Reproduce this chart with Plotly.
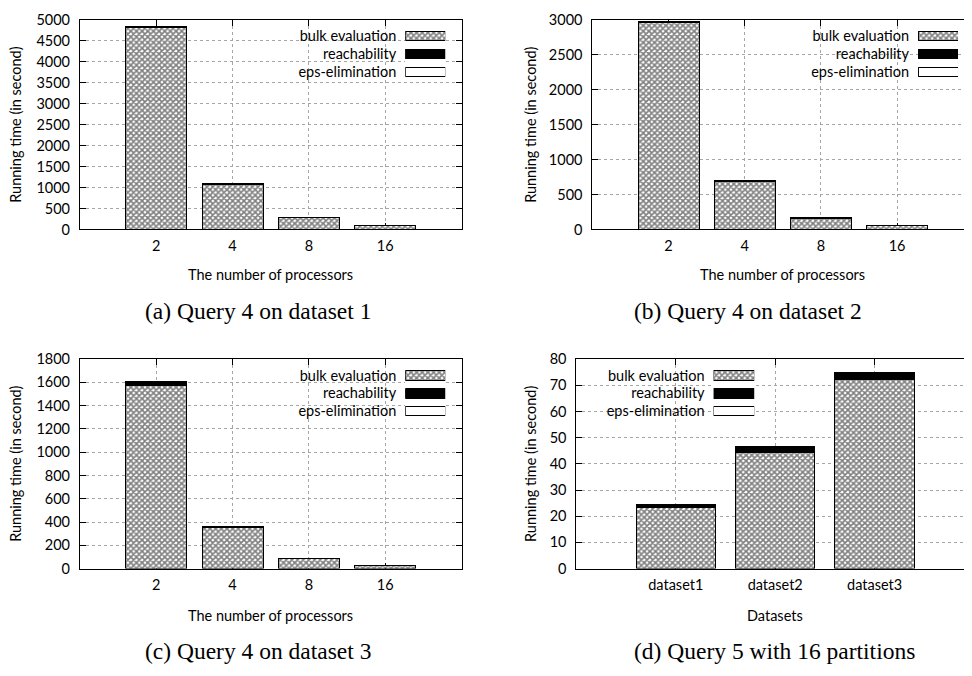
import plotly.graph_objects as go

# page has an 8px body margin, so the figure is 964x668 placed at (8, 8)
OFF = 8
W, H = 964, 668

# ---------------- data ----------------
procs = ["2", "4", "8", "16"]
datasets = ["dataset1", "dataset2", "dataset3"]
series_names = ["bulk evaluation", "reachability", "eps-elimination"]

bulk_a = [4820, 1080, 275, 85]
reach_a = [25, 25, 8, 5]
eps_a = [3, 2, 1, 1]

bulk_b = [2960, 690, 160, 53]
reach_b = [18, 16, 3, 2]
eps_b = [2, 2, 1, 0.5]

bulk_c = [1575, 352, 86, 26]
reach_c = [33, 7, 3, 1.5]
eps_c = [2, 1, 0.5, 0.3]

bulk_d = [23.2, 44.3, 72.2]
reach_d = [1.2, 2.4, 2.8]
eps_d = [0.05, 0.05, 0.05]

captions = ["(a) Query 4 on dataset 1", "(b) Query 4 on dataset 2",
            "(c) Query 4 on dataset 3", "(d) Query 5 with 16 partitions"]
xtitles = ["The number of processors", "The number of processors",
           "The number of processors", "Datasets"]
ytitle = "Running time (in second)"

# ---------------- styling ----------------
FONT = "Lato"
FS = 14.5
SERIF = "Liberation Serif"
CAP_FS = 23.5


def px(s):
    return (s - OFF) / W


def py(s):
    return 1 - (s - OFF) / H


panels = [
    dict(cats=procs, vals=[bulk_a, reach_a, eps_a], xdom=(80, 462), ydom=(11, 226),
         xr=[-1, 4], yr=[0, 5000], dt=500,
         leg_x=(405.7, 445.7), leg_y=(18.3, 73.5), box=(277, 12, 461, 72),
         ytx=16, xtx=271, xty=272, capx=258.5, capy=310),
    dict(cats=procs, vals=[bulk_b, reach_b, eps_b], xdom=(593, 972), ydom=(11, 226),
         xr=[-1, 3.97], yr=[0, 3000], dt=500,
         leg_x=(919, 959), leg_y=(18.3, 73.5), box=(790, 12, 966, 72),
         ytx=531.7, xtx=783, xty=272, capx=749, capy=310),
    dict(cats=procs, vals=[bulk_c, reach_c, eps_c], xdom=(80, 462), ydom=(359, 574),
         xr=[-1, 4], yr=[0, 1800], dt=200,
         leg_x=(405.7, 445.7), leg_y=(366.9, 421.4), box=(277, 360, 461, 421),
         ytx=16, xtx=271, xty=622, capx=258.5, capy=659),
    dict(cats=datasets, vals=[bulk_d, reach_d, eps_d], xdom=(577, 972), ydom=(359, 574),
         xr=[-1, 2.97], yr=[0, 80], dt=10,
         leg_x=(714.3, 755), leg_y=(366.9, 421.4), box=(578, 366, 761.5, 421),
         ytx=531.7, xtx=776, xty=622, capx=775, capy=659),
]

styles = [
    dict(color="white", line=dict(color="black", width=1),
         pattern=dict(shape="x", fgcolor="black", bgcolor="white", size=4, solidity=0.65)),
    dict(color="black", line=dict(color="black", width=1)),
    dict(color="white", line=dict(color="black", width=1)),
]

fig = go.Figure()
tickfont = dict(family=FONT, size=FS, color="black")
annotations = []
shapes = []
GRID = "#a6a6a6"

for i, p in enumerate(panels):
    k = i + 1
    ks = "" if k == 1 else str(k)
    xa, ya = f"x{ks}", f"y{ks}"
    for name, vals, st in zip(series_names, p["vals"], styles):
        fig.add_trace(go.Bar(x=p["cats"], y=vals, name=name, marker=st, width=0.8,
                             xaxis=xa, yaxis=ya, showlegend=False, hoverinfo="skip"))
    fig.update_layout(**{
        f"xaxis{ks}": dict(domain=[px(p["xdom"][0]), min(1, px(p["xdom"][1]))], anchor=ya,
                           type="category", range=p["xr"], showline=True, linecolor="black",
                           linewidth=1, mirror="ticks", ticks="inside", ticklen=6,
                           tickcolor="black", showgrid=True, gridcolor=GRID,
                           griddash="dot", gridwidth=1, tickfont=tickfont, zeroline=False,
                           layer="below traces", fixedrange=True, ticklabelstandoff=3),
        f"yaxis{ks}": dict(domain=[py(p["ydom"][1]), py(p["ydom"][0])], anchor=xa,
                           range=p["yr"], dtick=p["dt"], tick0=0, showline=True,
                           linecolor="black", linewidth=1, mirror="ticks", ticks="inside",
                           ticklen=6, tickcolor="black", showgrid=True, gridcolor=GRID,
                           griddash="dot", gridwidth=1, tickfont=tickfont, zeroline=False,
                           layer="below traces", fixedrange=True, ticklabelstandoff=6),
    })
    # legend sub-axes (gnuplot style key: text then sample box)
    lk = k + 4
    lx, ly = f"x{lk}", f"y{lk}"
    lx0, lx1 = p["leg_x"]
    ly0, ly1 = p["leg_y"]
    fig.update_layout(**{
        f"xaxis{lk}": dict(domain=[px(lx0), px(lx1)], anchor=ly,
                           range=[0, 1], visible=False, fixedrange=True),
        f"yaxis{lk}": dict(domain=[py(ly1), py(ly0)], anchor=lx,
                           type="category", categoryorder="array", categoryarray=series_names,
                           range=[2.5, -0.5], showline=False, showgrid=False, zeroline=False,
                           ticks="", tickfont=tickfont, ticklabelstandoff=8, fixedrange=True),
    })
    # white key background, drawn in the key's own subplot layer
    bx0, by0, bx1, by1 = p["box"]
    shapes.append(dict(type="rect", xref=lx, yref=ly, layer="below",
                       x0=(bx0 - lx0) / (lx1 - lx0), x1=(bx1 - lx0) / (lx1 - lx0),
                       y0=-0.5 + (by0 - ly0) / (ly1 - ly0) * 3,
                       y1=-0.5 + (by1 - ly0) / (ly1 - ly0) * 3,
                       fillcolor="white", line=dict(width=0)))
    for name, st in zip(series_names, styles):
        fig.add_trace(go.Bar(x=[1], y=[name], orientation="h", marker=st, width=0.54,
                             xaxis=lx, yaxis=ly, showlegend=False, hoverinfo="skip"))
    # titles & captions
    annotations.append(dict(text=ytitle, x=px(p["ytx"]), y=py((p["ydom"][0] + p["ydom"][1]) / 2),
                            xref="paper", yref="paper", textangle=-90, showarrow=False,
                            xanchor="center", yanchor="middle",
                            font=dict(family=FONT, size=FS, color="black")))
    annotations.append(dict(text=xtitles[i], x=px(p["xtx"]), y=py(p["xty"]),
                            xref="paper", yref="paper", showarrow=False,
                            xanchor="center", yanchor="middle",
                            font=dict(family=FONT, size=FS, color="black")))
    annotations.append(dict(text=captions[i], x=px(p["capx"]), y=py(p["capy"]),
                            xref="paper", yref="paper", showarrow=False,
                            xanchor="center", yanchor="middle",
                            font=dict(family=SERIF, size=CAP_FS, color="black")))

fig.update_layout(
    width=W, height=H, margin=dict(l=0, r=0, t=0, b=0),
    paper_bgcolor="white", plot_bgcolor="white",
    barmode="stack", bargap=0.2, showlegend=False,
    annotations=annotations, shapes=shapes,
    font=dict(family=FONT, size=FS, color="black"),
)

fig.write_html("out.html")
